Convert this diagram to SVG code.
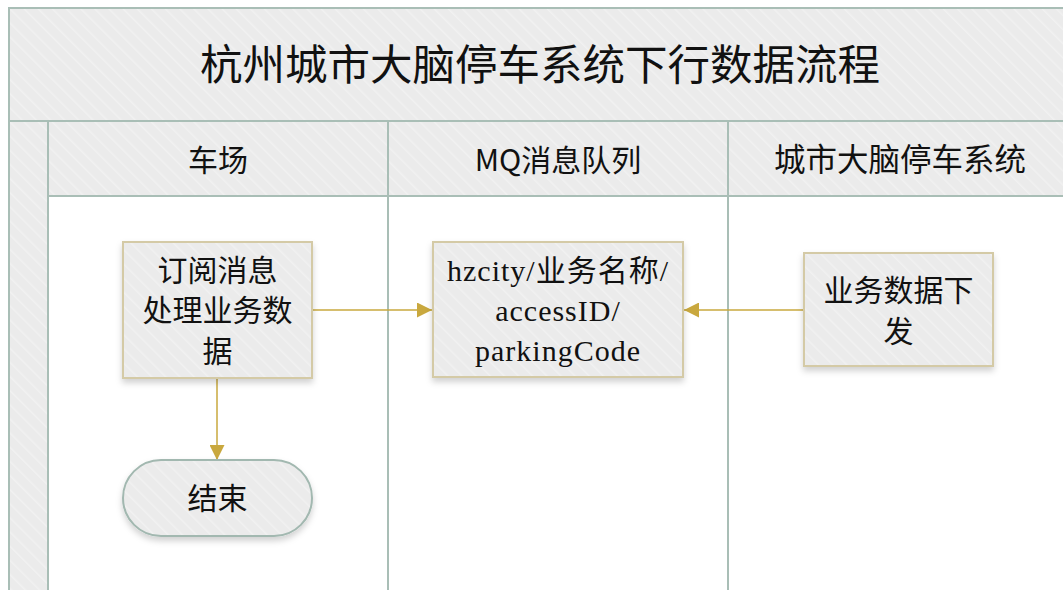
<svg xmlns="http://www.w3.org/2000/svg" width="1063" height="590" viewBox="0 0 1063 590">
<defs>
<pattern id="hatch" patternUnits="userSpaceOnUse" width="10" height="10" patternTransform="rotate(-45)">
<rect width="10" height="10" fill="#ebebeb"/>
<rect x="0" y="0" width="1.5" height="10" fill="#f1f1f1"/>
</pattern>
<filter id="sh" x="-20%" y="-20%" width="140%" height="150%">
<feDropShadow dx="0" dy="4" stdDeviation="3" flood-color="#000" flood-opacity="0.18"/>
</filter>
<marker id="arr" viewBox="0 0 10 10" refX="10" refY="5" markerWidth="15" markerHeight="15" markerUnits="userSpaceOnUse" orient="auto">
<path d="M0,0 L10,5 L0,10 z" fill="#c9a83e"/>
</marker>
</defs>
<style>
.lane{stroke:#a9beb6;stroke-width:2;}
.node{fill:url(#hatch);stroke:#d4caa6;stroke-width:2;filter:url(#sh);}
.term{fill:url(#hatch);stroke:#a2b8b0;stroke-width:2;filter:url(#sh);}
.cn{font-family:"Noto Sans CJK SC","Noto Sans",sans-serif;fill:#111;text-anchor:middle;}
.sf{font-family:"Liberation Serif","Noto Sans CJK SC",serif;fill:#111;text-anchor:middle;letter-spacing:1px;}
.conn{stroke:#c9a83e;stroke-width:1.5;fill:none;marker-end:url(#arr);}
</style>
<rect width="1063" height="590" fill="#ffffff"/>
<g id="pool">
<rect x="9" y="8" width="1064" height="600" fill="url(#hatch)" class="lane"/>
<rect x="48" y="196" width="1025" height="412" fill="#ffffff"/>
<line x1="9" y1="121" x2="1063" y2="121" class="lane"/>
<line x1="48" y1="196" x2="1063" y2="196" class="lane"/>
<line x1="48" y1="121" x2="48" y2="590" class="lane"/>
<line x1="388" y1="121" x2="388" y2="590" class="lane"/>
<line x1="728" y1="121" x2="728" y2="590" class="lane"/>
<text x="540" y="80" class="cn" font-size="42.5">杭州城市大脑停车系统下行数据流程</text>
<text x="218" y="171" class="cn" font-size="30">车场</text>
<text x="558" y="171" class="cn" font-size="30">MQ消息队列</text>
<text x="900" y="171" class="cn" font-size="31.5">城市大脑停车系统</text>
</g>
<g id="connectors">
<line x1="312" y1="310" x2="432" y2="310" class="conn"/>
<line x1="804" y1="310" x2="684" y2="310" class="conn"/>
<line x1="217" y1="378" x2="217" y2="460" class="conn"/>
</g>
<g id="node1">
<rect x="123" y="242" width="189" height="136" class="node"/>
<text class="cn" font-size="30"><tspan x="217.5" y="281">订阅消息</tspan><tspan x="217.5" y="321">处理业务数</tspan><tspan x="217.5" y="362">据</tspan></text>
</g>
<g id="node2">
<rect x="433" y="242" width="250" height="135" class="node"/>
<text class="sf" font-size="30"><tspan x="558" y="281">hzcity/业务名称/</tspan><tspan x="558" y="321">accessID/</tspan><tspan x="558" y="361">parkingCode</tspan></text>
</g>
<g id="node3">
<rect x="804" y="253" width="189" height="113" class="node"/>
<text class="cn" font-size="30"><tspan x="898.5" y="301">业务数据下</tspan><tspan x="898.5" y="342">发</tspan></text>
</g>
<g id="end">
<rect x="123" y="460" width="189" height="76" rx="38" ry="38" class="term"/>
<text x="217.5" y="509" class="cn" font-size="30">结束</text>
</g>
</svg>
